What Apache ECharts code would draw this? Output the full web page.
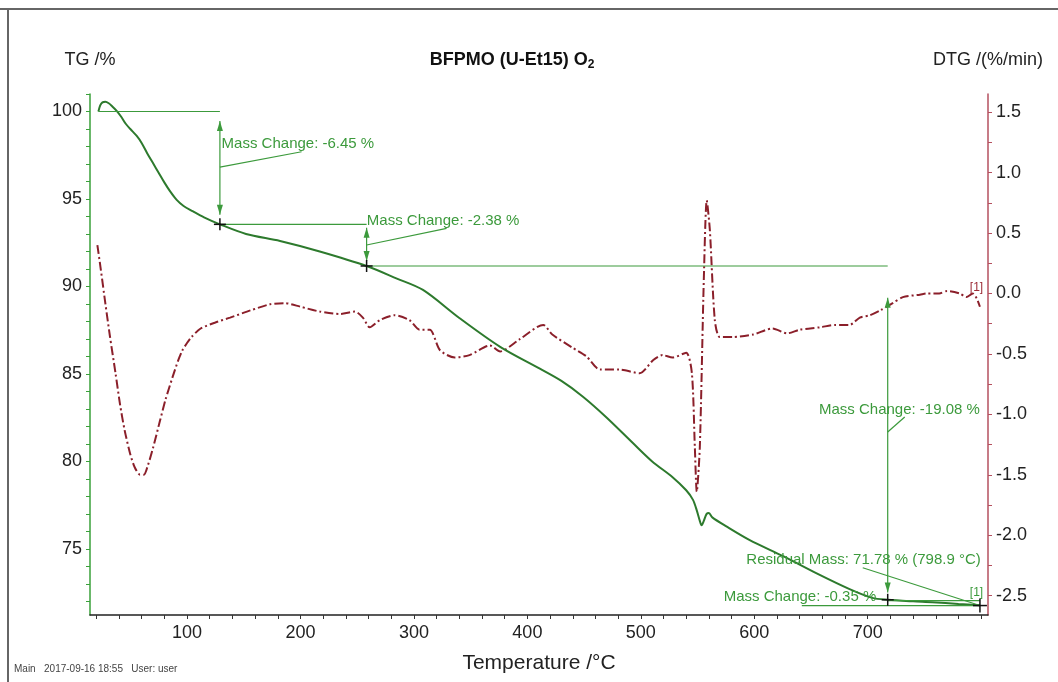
<!DOCTYPE html>
<html><head><meta charset="utf-8">
<script src="https://cdn.jsdelivr.net/npm/echarts@6/dist/echarts.min.js"></script>
<style>html,body{margin:0;padding:0;background:#fff}#c{width:1058px;height:682px}</style>
</head><body><div id="c"></div>
<script>
// ---- data ----
const tgT = [21.9,23.5,25.5,28,31,34,38,42,46,50,55.7,60,65,70,75,80,85,90.9,97,105,115,129,152,182,217,258.3,285,308,340,376,411,430,449,470,493,510,528,540,546,549.3,552,553.5,555.5,558,560,563,575,596,625,655,684,704,717.6,740,757,780,798.9];
const tgV = [100.0,100.35,100.52,100.55,100.47,100.3,100.04,99.7,99.3,99.0,98.6,98.2,97.6,97.05,96.5,95.95,95.45,94.95,94.6,94.3,93.95,93.55,93.0,92.6,92.0,91.17,90.45,89.8,88.2,86.55,85.3,84.6,83.7,82.5,81.05,80.0,79.1,78.35,77.8,77.2,76.6,76.35,76.6,77.0,77.05,76.8,76.3,75.5,74.6,73.6,72.7,72.2,72.09,72.0,71.95,71.85,71.78];
const dtgT = [21,24,28,32,37,41,45,50,54,58.6,62,65.6,70,76,81,87,92,96,100,104,112,125,138,156,173,186,200,217,235,248,255,261,270,283,296,305,314,323,336,349,367,376,393,414,422,440,452,464,481,499,511,519,528,540,545,547.6,549.3,552,555.5,558.1,560.8,565.2,569.6,581,599,616,629,640,658,671,684,693,702,711,722,731,746,752,763,770,781,787,792.5,796,798.9];
const dtgV = [0.40,0.20,-0.08,-0.35,-0.66,-0.92,-1.13,-1.33,-1.44,-1.50,-1.50,-1.42,-1.28,-1.06,-0.88,-0.70,-0.56,-0.47,-0.41,-0.36,-0.29,-0.24,-0.20,-0.14,-0.09,-0.08,-0.11,-0.15,-0.17,-0.15,-0.20,-0.28,-0.22,-0.18,-0.22,-0.30,-0.30,-0.47,-0.53,-0.51,-0.43,-0.48,-0.38,-0.26,-0.34,-0.45,-0.52,-0.63,-0.63,-0.66,-0.55,-0.51,-0.53,-0.49,-0.66,-1.27,-1.64,-1.27,0.11,0.77,0.53,-0.22,-0.36,-0.36,-0.34,-0.29,-0.33,-0.30,-0.28,-0.26,-0.26,-0.20,-0.18,-0.14,-0.08,-0.03,-0.01,0.00,0.00,0.02,0.00,-0.03,0.00,-0.04,-0.11];
const xTickLabels = [100,200,300,400,500,600,700];
const tgTickLabels = [75,80,85,90,95,100];
const dtgTickLabels = [-2.5,-2.0,-1.5,-1.0,-0.5,0.0,0.5,1.0,1.5];
const stepT = [21.9,129,258.3,717.6,798.9];
const stepTG = [100,93.55,91.17,72.09,71.76];
const massChanges = ['-6.45','-2.38','-19.08','-0.35'];
const residual = '71.78';

// ---- helpers ----
const FONT = "'Liberation Sans', Arial, sans-serif";
const G = '#3c9a3c';
const range = (a, b, s) => { const r = []; for (let v = a; v <= b + 1e-9; v += s) r.push(+v.toFixed(4)); return r; };
const zip = (a, b) => a.map((v, i) => [v, b[i]]);

const chart = echarts.init(document.getElementById('c'));

function annoRender(params, api) {
  const c = (t, v) => api.coord([t, v]);
  const ch = [];
  const line = (a, b, w, col) => ch.push({type:'line', shape:{x1:a[0],y1:a[1],x2:b[0],y2:b[1]}, style:{stroke:col||G, lineWidth:w||1.2}});
  const head = (p, dir) => ch.push({type:'polygon', shape:{points:[[p[0],p[1]],[p[0]-3,p[1]-dir*10],[p[0]+3,p[1]-dir*10]]}, style:{fill:G}});
  const arrow = (t, top, bot) => { const a = c(t, top), b = c(t, bot); line(a, b); head(a, -1); head(b, 1); };
  const text = (t, v, s, fs) => { const p = c(t, v); ch.push({type:'text', style:{x:p[0], y:p[1], text:s, fill:G, fontSize:fs||15, fontFamily:FONT, align:'left', verticalAlign:'middle'}}); };
  const plus = (t, v, s) => { const p = c(t, v); s = s || 6; line([p[0]-s,p[1]],[p[0]+s,p[1]],1.5,'#111'); line([p[0],p[1]-s],[p[0],p[1]+s],1.5,'#111'); };
  // level lines
  line(c(stepT[0], stepTG[0]), c(stepT[1], stepTG[0]));
  line(c(stepT[1], stepTG[1]), c(stepT[2], stepTG[1]));
  line(c(stepT[2], stepTG[2]), c(stepT[3], stepTG[2]));
  line(c(641.9, stepTG[4]), c(stepT[4], stepTG[4]));
  line(c(stepT[3], stepTG[3] - 0.05), c(stepT[4], stepTG[3] - 0.05));
  // arrows
  arrow(stepT[1], 99.45, 94.1);
  arrow(stepT[2], 93.35, 91.45);
  arrow(stepT[3], 89.35, 72.5);
  // leaders
  line(c(129, 96.82), c(201, 97.7));
  line(c(258.3, 92.37), c(328.8, 93.32));
  line(c(717.6, 81.68), c(732.6, 82.54));
  line(c(695.6, 73.92), c(stepT[4], stepTG[4]));
  // texts
  text(130.5, 98.14, 'Mass Change: ' + massChanges[0] + ' %');
  text(258.5, 93.74, 'Mass Change: ' + massChanges[1] + ' %');
  text(657, 82.94, 'Mass Change: ' + massChanges[2] + ' %');
  text(593, 74.37, 'Residual Mass: ' + residual + ' % (' + stepT[4] + ' °C)');
  text(573, 72.25, 'Mass Change: ' + massChanges[3] + ' %');
  text(790, 72.5, '[1]', 12);
  // markers
  plus(stepT[1], stepTG[1]); plus(stepT[2], stepTG[2]); plus(stepT[3], stepTG[3]); plus(stepT[4], stepTG[4], 7);
  return {type:'group', children: ch};
}
function dtgAnno(params, api) {
  const p = api.coord([790, 0.05]);
  return {type:'text', style:{x:p[0], y:p[1], text:'[1]', fill:'#9b2a35', fontSize:12, fontFamily:FONT, align:'left', verticalAlign:'middle'}};
}

// title width measurement for subscript
const cv = document.createElement('canvas').getContext('2d');
cv.font = 'bold 18px ' + FONT;
const tMain = 'BFPMO (U-Et15) O';
const wMain = cv.measureText(tMain).width;
cv.font = 'bold 12px ' + FONT;
const wSub = cv.measureText('2').width;
const tLeft = 512 - (wMain + wSub) / 2;

const option = {
  backgroundColor: '#fff',
  animation: false,
  grid: {left: 90, right: 70, top: 94, bottom: 67, containLabel: false},
  xAxis: {
    type: 'value', min: 14.5, max: 806,
    name: 'Temperature /°C', nameLocation: 'middle', nameGap: 38,
    nameTextStyle: {fontSize: 21, color: '#222', fontFamily: FONT},
    axisLine: {onZero: false, lineStyle: {color: '#222', width: 1.5}},
    axisTick: {show: true, customValues: range(20, 800, 20), length: 4, lineStyle: {color: '#333'}},
    axisLabel: {customValues: xTickLabels, fontSize: 18, color: '#222', margin: 9, fontFamily: FONT},
    splitLine: {show: false}
  },
  yAxis: [{
    type: 'value', min: 71.22, max: 101, position: 'left',
    name: 'TG /%', nameLocation: 'end', nameGap: 34,
    nameTextStyle: {fontSize: 18, color: '#222', fontFamily: FONT, align: 'center', verticalAlign: 'middle'},
    axisLine: {show: true, onZero: false, lineStyle: {color: '#3aa03a', width: 1.5}},
    axisTick: {show: true, customValues: range(72, 101, 1), length: 4, lineStyle: {color: '#3aa03a'}},
    axisLabel: {customValues: tgTickLabels, fontSize: 18, color: '#222', margin: 8, fontFamily: FONT},
    splitLine: {show: false}
  }, {
    type: 'value', min: -2.66, max: 1.65, position: 'right',
    name: 'DTG /(%/min)', nameLocation: 'end', nameGap: 34,
    nameTextStyle: {fontSize: 18, color: '#222', fontFamily: FONT, align: 'center', verticalAlign: 'middle'},
    axisLine: {show: true, onZero: false, lineStyle: {color: '#b5505f', width: 1.5}},
    axisTick: {show: true, customValues: range(-2.5, 1.5, 0.25), length: 4, lineStyle: {color: '#b5505f'}},
    axisLabel: {customValues: dtgTickLabels, fontSize: 18, color: '#222', margin: 8, fontFamily: FONT,
      formatter: v => v.toFixed(1)},
    splitLine: {show: false}
  }],
  series: [
    {type: 'line', name: 'DTG', yAxisIndex: 1, data: zip(dtgT, dtgV), showSymbol: false, smooth: 0.25,
     lineStyle: {color: '#8b1f2a', width: 2, type: [9, 3, 2, 3]}, z: 3},
    {type: 'line', name: 'TG', yAxisIndex: 0, data: zip(tgT, tgV), showSymbol: false, smooth: 0.3,
     lineStyle: {color: '#2d7a2d', width: 2}, z: 4},
    {type: 'custom', yAxisIndex: 0, data: [[stepT[0], stepTG[0]]], renderItem: annoRender, clip: false, silent: true, z: 6},
    {type: 'custom', yAxisIndex: 1, data: [[790, 0]], renderItem: dtgAnno, clip: false, silent: true, z: 6}
  ],
  graphic: [
    {type: 'line', shape: {x1: 0, y1: 9, x2: 1058, y2: 9}, style: {stroke: '#666', lineWidth: 2}},
    {type: 'line', shape: {x1: 8, y1: 9, x2: 8, y2: 682}, style: {stroke: '#666', lineWidth: 2}},
    {type: 'text', x: tLeft, y: 60, style: {text: tMain, fontSize: 18, fontWeight: 'bold', fontFamily: FONT, fill: '#111', align: 'left', verticalAlign: 'middle'}},
    {type: 'text', x: tLeft + wMain, y: 65, style: {text: '2', fontSize: 12, fontWeight: 'bold', fontFamily: FONT, fill: '#111', align: 'left', verticalAlign: 'middle'}},
    {type: 'text', x: 14, y: 669, style: {text: 'Main   2017-09-16 18:55   User: user', fontSize: 10, fontFamily: FONT, fill: '#444', align: 'left', verticalAlign: 'middle'}}
  ]
};
chart.setOption(option);
</script></body></html>
